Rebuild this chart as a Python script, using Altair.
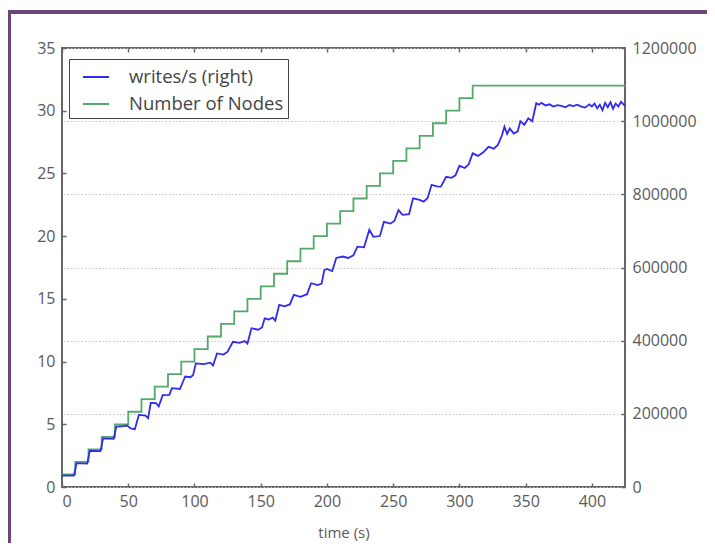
import altair as alt
import pandas as pd

# Number of nodes (left axis), step changes
node_times = [0, 10, 20, 30, 40, 50, 60, 70, 80, 90, 100, 110, 120, 130, 140, 150,
              160, 170, 180, 190, 200, 210, 220, 230, 240, 250, 260, 270, 280, 290,
              300, 310, 425]
node_counts = [1, 2, 3, 4, 5, 6, 7, 8, 9, 10, 11, 12, 13, 14, 15, 16,
               17, 18, 19, 20, 21, 22, 23, 24, 25, 26, 27, 28, 29, 30,
               31, 32, 32]

# writes/s (right axis)
write_times = [0, 9, 11, 19, 21, 29, 31, 39, 41, 45, 49, 52, 55, 58, 63, 65, 67, 71, 73, 76,
               81, 83, 89, 91, 93, 97, 99, 101, 107, 112, 114, 117, 122, 125, 129, 134, 138,
               140, 143, 148, 151, 153, 156, 159, 161, 164, 168, 172, 175, 180, 185, 188, 193,
               196, 198, 200, 204, 207, 212, 216, 220, 223, 228, 232, 235, 240, 243, 248, 251,
               254, 257, 262, 265, 270, 273, 276, 279, 283, 286, 290, 294, 297, 300, 304, 307,
               310, 314, 318, 322, 326, 329, 332, 334, 336, 338, 341, 344, 346, 349, 352, 355,
               358, 360, 362, 365, 368, 371, 374, 377, 380, 383, 386, 389, 392, 395, 398, 400,
               402, 404, 406, 408, 410, 412, 414, 416, 418, 420, 422, 425]
write_values = [31000, 31000, 65000, 64000, 99000, 98000, 133000, 132000, 165000, 166000,
                168000, 160000, 158000, 197000, 195000, 188000, 230000, 229000, 220000, 251000,
                252000, 270000, 268000, 285000, 302000, 300000, 306000, 338000, 336000, 340000,
                332000, 365000, 362000, 370000, 397000, 394000, 399000, 392000, 434000, 430000,
                436000, 461000, 458000, 463000, 455000, 498000, 494000, 499000, 525000, 520000,
                527000, 557000, 552000, 556000, 593000, 596000, 590000, 626000, 630000, 626000,
                633000, 657000, 655000, 703000, 684000, 686000, 725000, 720000, 728000, 757000,
                744000, 746000, 789000, 785000, 780000, 790000, 826000, 822000, 821000, 848000,
                845000, 852000, 878000, 872000, 882000, 912000, 905000, 915000, 930000, 925000,
                935000, 960000, 985000, 965000, 980000, 966000, 972000, 1000000, 990000, 1008000,
                1000000, 1049000, 1045000, 1050000, 1043000, 1046000, 1040000, 1044000, 1042000,
                1038000, 1044000, 1041000, 1045000, 1040000, 1037000, 1046000, 1040000, 1048000,
                1035000, 1045000, 1030000, 1050000, 1038000, 1052000, 1034000, 1048000, 1040000,
                1053000, 1042000]

x_ticks = [0, 50, 100, 150, 200, 250, 300, 350, 400]
left_ticks = [0, 5, 10, 15, 20, 25, 30, 35]
right_ticks = [0, 200000, 400000, 600000, 800000, 1000000, 1200000]
series_names = ["writes/s (right)", "Number of Nodes"]
series_colors = ["#2f2cf0", "#55a868"]

df_n = pd.DataFrame({"t": node_times, "v": node_counts, "series": series_names[1]})
df_w = pd.DataFrame({"t": write_times, "v": write_values, "series": series_names[0]})

FONT = "Open Sans"
LABEL_COLOR = "#5a5a5a"

x_scale = alt.Scale(domain=[0, 425], nice=False, zero=False)
color_scale = alt.Scale(domain=series_names, range=series_colors)
legend = alt.Legend(
    title=None, orient="none", legendX=7, legendY=11,
    symbolType="stroke", symbolSize=676, symbolStrokeWidth=2, symbolOffset=9,
    labelFontSize=18.5, labelFont=FONT, labelColor="#444444", labelOffset=19,
    padding=4, rowPadding=3, strokeColor="#444444", fillColor="white",
)

nodes = alt.Chart(df_n).mark_line(interpolate="step-after", strokeWidth=1.8).encode(
    x=alt.X("t:Q", scale=x_scale,
            axis=alt.Axis(orient="top", values=x_ticks, labels=False, title=None,
                          domain=False, grid=False, tickSize=4, offset=-4,
                          tickColor="#666666", tickWidth=1.5)),
    y=alt.Y("v:Q", scale=alt.Scale(domain=[0, 35], nice=False),
            axis=alt.Axis(orient="left", values=left_ticks, title=None, domain=False,
                          grid=False, tickSize=4, offset=-4, tickColor="#666666",
                          tickWidth=1.5, labelPadding=7, labelFontSize=16,
                          labelFont=FONT, labelColor=LABEL_COLOR)),
    color=alt.Color("series:N", scale=color_scale, legend=legend),
)

writes = alt.Chart(df_w).mark_line(strokeWidth=1.8).encode(
    x=alt.X("t:Q", scale=x_scale,
            axis=alt.Axis(orient="bottom", values=x_ticks, title="time (s)",
                          domain=False, grid=False, tickSize=4, offset=-4,
                          tickColor="#666666", tickWidth=1.5, labelPadding=6,
                          labelFontSize=16, labelFont=FONT, labelColor=LABEL_COLOR,
                          titleFont=FONT, titleFontSize=15, titleFontWeight="normal",
                          titleColor=LABEL_COLOR, titlePadding=16)),
    y=alt.Y("v:Q", scale=alt.Scale(domain=[0, 1200000], nice=False),
            axis=alt.Axis(orient="right", values=right_ticks, title=None, domain=False,
                          grid=True, gridColor="#c4c4c4", gridDash=[1.5, 2], gridWidth=1,
                          tickSize=4, offset=-4, tickColor="#666666", tickWidth=1.5,
                          labelPadding=7, labelFontSize=16, labelFont=FONT,
                          labelColor=LABEL_COLOR, format="d")),
    color=alt.Color("series:N", scale=color_scale, legend=legend),
)

one = pd.DataFrame({"a": [0]})
frame_left = alt.Chart(one).mark_rule(color="#6b4778", strokeWidth=4).encode(
    x=alt.value(-53), y=alt.value(-38), y2=alt.value(520))
frame_top = alt.Chart(one).mark_rule(color="#6b4778", strokeWidth=4).encode(
    x=alt.value(-55), x2=alt.value(700), y=alt.value(-36))

chart = alt.layer(nodes, writes, frame_left, frame_top).resolve_scale(
    y="independent"
).resolve_axis(x="independent").properties(
    width=563, height=439,
    autosize=alt.AutoSizeParams(type="none"),
    padding={"left": 54, "top": 40, "right": 82, "bottom": 56},
    background="white",
).configure_view(stroke="#666666", strokeWidth=2)

chart.save("out.html", embed_options={"renderer": "svg", "actions": False})
